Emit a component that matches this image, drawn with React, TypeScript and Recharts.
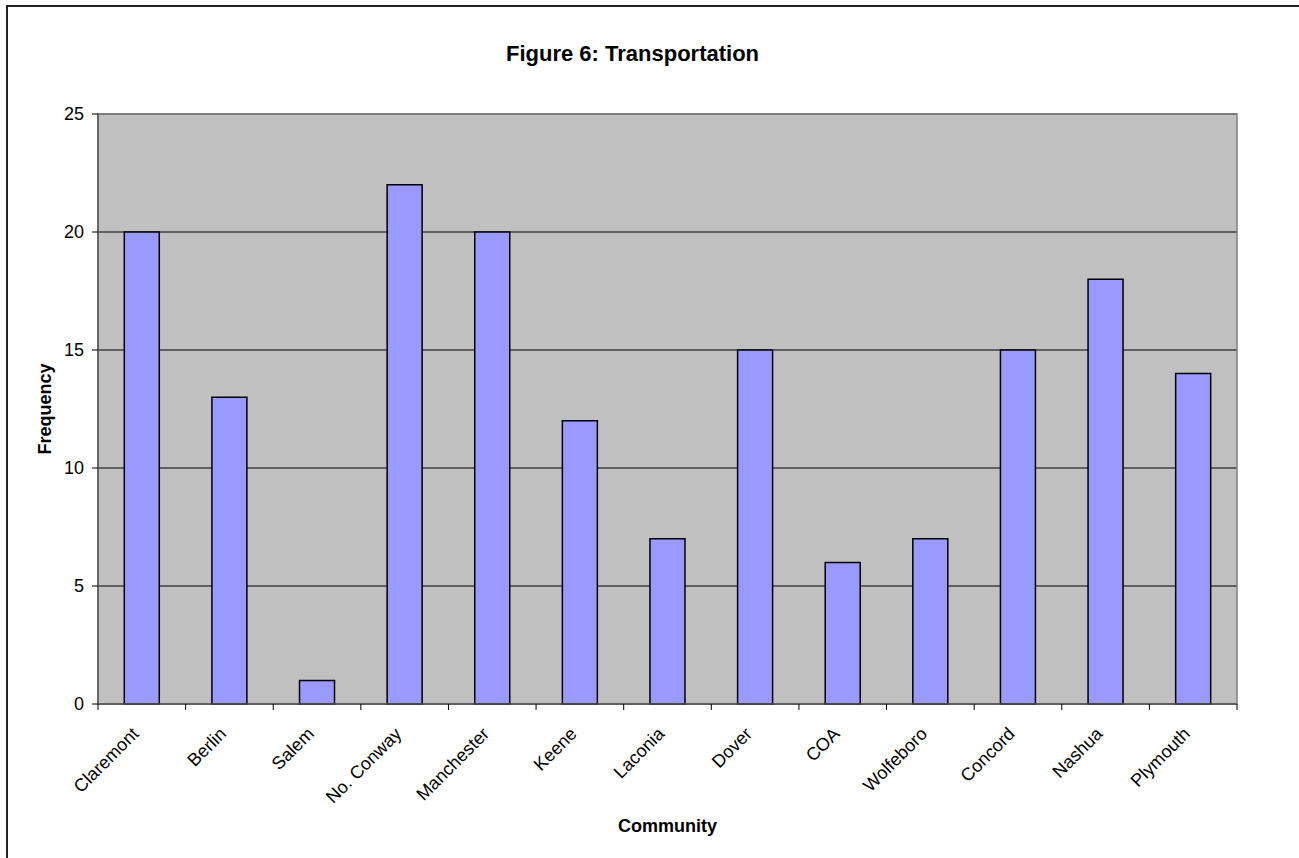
import { BarChart, Bar, XAxis, YAxis, CartesianGrid, ReferenceArea, Label } from "recharts";

const communities = [
  "Claremont",
  "Berlin",
  "Salem",
  "No. Conway",
  "Manchester",
  "Keene",
  "Laconia",
  "Dover",
  "COA",
  "Wolfeboro",
  "Concord",
  "Nashua",
  "Plymouth",
];
const frequency = [20, 13, 1, 22, 20, 12, 7, 15, 6, 7, 15, 18, 14];
const yTicks = [0, 5, 10, 15, 20, 25];

const FONT = "'Liberation Sans', Arial, sans-serif";

// slanted community name, plus tick marks on the category boundaries
function CategoryTick({ x, y, payload, width, visibleTicksCount, index }: any) {
  const count = visibleTicksCount || communities.length;
  const band = width / count;
  const ax = x - 2;
  const ay = y + 31;
  const left = x - band / 2;
  const right = x + band / 2;
  return (
    <g>
      <line x1={left} x2={left} y1={y} y2={y + 6} stroke="#000" />
      {index === count - 1 && <line x1={right} x2={right} y1={y} y2={y + 6} stroke="#000" />}
      <text
        x={ax}
        y={ay}
        transform={`rotate(-45, ${ax}, ${ay})`}
        textAnchor="end"
        fontSize={18}
        fontFamily={FONT}
        fill="#000"
      >
        {payload.value}
      </text>
    </g>
  );
}

export default function App() {
  const data = communities.map((name, i) => ({ name, value: frequency[i] }));

  return (
    <div
      style={{
        position: "absolute",
        left: 0,
        top: 0,
        width: 1299,
        height: 858,
        overflow: "hidden",
        background: "#fff",
        fontFamily: FONT,
      }}
    >
      <div
        style={{
          position: "absolute",
          left: 6,
          top: 5,
          width: 1400,
          height: 900,
          borderTop: "2px solid #222",
          borderLeft: "2px solid #222",
        }}
      />
      <BarChart
        width={1299}
        height={858}
        data={data}
        margin={{ top: 114, right: 62, left: 0, bottom: 20 }}
        barCategoryGap="30%"
        style={{ position: "absolute", left: 0, top: 0 }}
      >
        <CartesianGrid vertical={false} stroke="#000" fill="#C0C0C0" fillOpacity={1} />
        <ReferenceArea y1={0} y2={25} fill="none" stroke="#808080" strokeWidth={1.5} />
        <XAxis
          dataKey="name"
          height={134}
          interval={0}
          axisLine={{ stroke: "#555", strokeWidth: 1.5 }}
          tickLine={false}
          tickSize={0}
          tickMargin={0}
          tick={<CategoryTick />}
        >
          <Label
            content={({ viewBox }: any) => (
              <text
                x={viewBox.x + viewBox.width / 2}
                y={viewBox.y + viewBox.height - 6}
                textAnchor="middle"
                fontSize={18}
                fontWeight="bold"
                fontFamily={FONT}
                fill="#000"
              >
                Community
              </text>
            )}
          />
        </XAxis>
        <YAxis
          width={98}
          domain={[0, 25]}
          ticks={yTicks}
          interval={0}
          tickSize={6}
          tickMargin={8}
          tickLine={{ stroke: "#000" }}
          axisLine={{ stroke: "#555", strokeWidth: 1.5 }}
          tick={{ fill: "#000", fontSize: 18, fontFamily: FONT }}
        >
          <Label
            content={({ viewBox }: any) => {
              const cx = viewBox.x + 51;
              const cy = viewBox.y + viewBox.height / 2;
              return (
                <text
                  x={cx}
                  y={cy}
                  transform={`rotate(-90, ${cx}, ${cy})`}
                  textAnchor="middle"
                  fontSize={18}
                  fontWeight="bold"
                  fontFamily={FONT}
                  fill="#000"
                >
                  Frequency
                </text>
              );
            }}
          />
        </YAxis>
        <Bar
          dataKey="value"
          fill="#9999FF"
          stroke="#000"
          strokeWidth={1.5}
          isAnimationActive={false}
        />
      </BarChart>
      <svg
        width={1299}
        height={858}
        style={{ position: "absolute", left: 0, top: 0, pointerEvents: "none" }}
      >
        <text x={632.5} y={61} textAnchor="middle" fontSize={22} fontWeight="bold" fontFamily={FONT} fill="#000">
          Figure 6: Transportation
        </text>
      </svg>
    </div>
  );
}
